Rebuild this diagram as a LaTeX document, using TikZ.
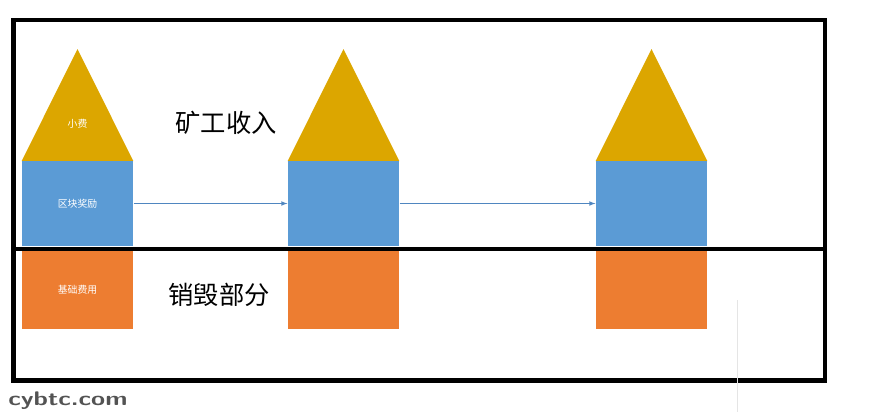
\documentclass[tikz,border=0pt]{standalone}
\usepackage{fontspec}
\setmainfont{Noto Sans CJK SC}
\usetikzlibrary{positioning}
\definecolor{tipgold}{HTML}{DCA600}
\definecolor{rewardblue}{HTML}{5B9BD5}
\definecolor{baseorange}{HTML}{ED7D31}
\definecolor{arrowblue}{HTML}{4F86C0}
\tikzset{
    block/.style={inner sep=0pt, minimum width=2.79cm, text=white, font=\fontsize{7}{8}\selectfont},
    reward/.style={block, fill=rewardblue, minimum height=2.125cm},
    base/.style={block, fill=baseorange, minimum height=1.975cm},
    frame/.style={line width=3.3pt},
    label/.style={font=\fontsize{18}{20}\selectfont}
}

\begin{document}
\begin{tikzpicture}[x=0.025cm, y=-0.025cm]
\useasboundingbox (0,0) rectangle (889,417);

\foreach \i/\cx/\tip/\reward/\base in {1/77.5/小费/区块奖励/基础费用, 2/343.5//, 3/651.5//} {
    \fill[tipgold] (\cx-55.8,161) -- (\cx,49) -- (\cx+55.8,161) -- cycle;
    \node[block] (tip\i) at (\cx,124) {\tip};
    \node[reward] (reward\i) at (\cx,203.5) {\reward};
    \node[base] (base\i) at (\cx,289.5) {\base};
}

\foreach \i in {1,2} {
    \pgfmathtruncatemacro{\next}{\i+1}
    \draw[-latex, arrowblue, line width=0.5pt] (reward\i.east) -- (reward\next.west);
}

\draw[frame] (13.5,20) rectangle (825,380.5);
\draw[frame] (13.5,249) -- (825,249);

\node[label] (income) at (226,123) {矿工收入};
\node[label] (burn) at (219,295) {销毁部分};

\draw[gray!20] (737,300) -- (737,412);
\node[font=\sffamily\bfseries\fontsize{14}{15}\selectfont, text=gray!65!black, anchor=west, inner sep=0pt, xscale=1.3, transform shape] (mark) at (8,401) {cybtc.com};
\end{tikzpicture}
\end{document}
